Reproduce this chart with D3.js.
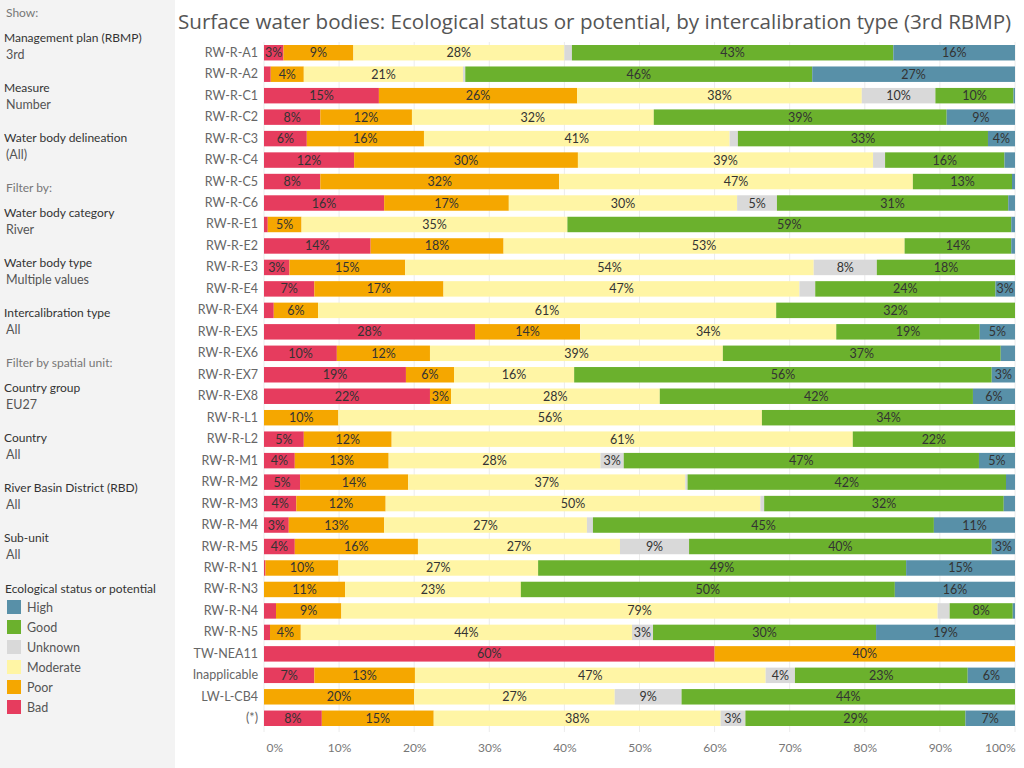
<!DOCTYPE html>
<html>
<head>
<meta charset="utf-8">
<script src="https://cdn.jsdelivr.net/npm/d3@7"></script>
<style>
  body { margin: 0; background: #fff; font-family: Lato, "Noto Sans", sans-serif; }
  svg { display: block; }
</style>
</head>
<body>
<svg id="chart" width="1024" height="768"></svg>
<script>
const categories = ["RW-R-A1", "RW-R-A2", "RW-R-C1", "RW-R-C2", "RW-R-C3", "RW-R-C4", "RW-R-C5", "RW-R-C6",
  "RW-R-E1", "RW-R-E2", "RW-R-E3", "RW-R-E4", "RW-R-EX4", "RW-R-EX5", "RW-R-EX6", "RW-R-EX7", "RW-R-EX8",
  "RW-R-L1", "RW-R-L2", "RW-R-M1", "RW-R-M2", "RW-R-M3", "RW-R-M4", "RW-R-M5", "RW-R-N1", "RW-R-N3",
  "RW-R-N4", "RW-R-N5", "TW-NEA11", "Inapplicable", "LW-L-CB4", "(*)"];

// percent shares per status, same order as categories
const bad      = [2.6, 0.9, 15.3, 7.5, 5.7, 12.0, 7.5, 16.0, 0.5, 14.2, 3.4, 6.7, 1.3, 28.1, 9.7, 18.9, 22.1, 0, 5.3, 4.1, 4.8, 4.3, 3.3, 4.1, 0.2, 0, 1.6, 0.8, 60, 6.7, 0, 7.7];
const poor     = [9.3, 4.4, 26.4, 12.2, 15.6, 29.8, 31.8, 16.6, 4.5, 17.7, 15.4, 17.2, 5.9, 14.0, 12.4, 6.4, 2.8, 9.9, 11.7, 12.5, 14.4, 11.9, 12.7, 16.4, 9.7, 10.8, 8.7, 4.1, 40, 13.4, 20.0, 14.9];
const moderate = [28.1, 21.2, 37.9, 32.2, 40.7, 39.3, 47.1, 30.4, 35.4, 53.4, 54.4, 47.4, 61.0, 34.1, 39.0, 16.0, 27.8, 56.4, 61.4, 28.2, 36.9, 49.9, 27.0, 26.9, 26.6, 23.4, 79.4, 44.1, 0, 46.7, 26.7, 38.2];
const unknown  = [1.0, 0.3, 9.8, 0, 1.1, 1.6, 0, 5.3, 0, 0, 8.4, 2.1, 0, 0, 0, 0, 0, 0, 0, 3.1, 0.3, 0.5, 0.8, 9.2, 0, 0, 1.6, 2.8, 0, 3.9, 8.9, 3.3];
const good     = [42.8, 46.2, 10.4, 39.0, 33.3, 15.9, 13.2, 30.8, 59.1, 14.2, 18.4, 24.0, 31.8, 19.1, 37.0, 55.6, 41.7, 33.7, 21.6, 47.3, 42.4, 31.9, 45.4, 40.3, 49.0, 49.8, 8.4, 29.7, 0, 23.0, 44.4, 29.3];
const high     = [16.2, 27.0, 0.2, 9.1, 3.6, 1.4, 0.4, 0.9, 0.5, 0.5, 0, 2.6, 0, 4.7, 1.9, 3.1, 5.6, 0, 0, 4.8, 1.2, 1.5, 10.8, 3.1, 14.5, 16.0, 0.3, 18.5, 0, 6.3, 0, 6.6];

const statusKeys = ["Bad", "Poor", "Moderate", "Unknown", "Good", "High"];
const statusColors = ["#e63c5e", "#f5a700", "#fff5a5", "#d9d9d9", "#6bb12d", "#5890a8"];
const legendOrder = ["High", "Good", "Unknown", "Moderate", "Poor", "Bad"];
const xTicks = [0, 10, 20, 30, 40, 50, 60, 70, 80, 90, 100];

const filterPanel = [
  { head: "Show:", section: true, y: 17 },
  { head: "Management plan (RBMP)", value: "3rd", y: 42 },
  { head: "Measure", value: "Number", y: 92 },
  { head: "Water body delineation", value: "(All)", y: 142 },
  { head: "Filter by:", section: true, y: 192 },
  { head: "Water body category", value: "River", y: 217 },
  { head: "Water body type", value: "Multiple values", y: 267 },
  { head: "Intercalibration type", value: "All", y: 317 },
  { head: "Filter by spatial unit:", section: true, y: 367 },
  { head: "Country group", value: "EU27", y: 392 },
  { head: "Country", value: "All", y: 442 },
  { head: "River Basin District (RBD)", value: "All", y: 492 },
  { head: "Sub-unit", value: "All", y: 542 }
];

const rows = categories.map((c, i) => ({
  cat: c, Bad: bad[i], Poor: poor[i], Moderate: moderate[i], Unknown: unknown[i], Good: good[i], High: high[i]
}));

const svg = d3.select("#chart");
const color = d3.scaleOrdinal().domain(statusKeys).range(statusColors);

// left filter panel
svg.append("rect").attr("x", 0).attr("y", 0).attr("width", 175).attr("height", 768).attr("fill", "#f3f3f3");
const panel = svg.append("g").style("font-family", "Lato, 'Noto Sans', sans-serif");
filterPanel.forEach(d => {
  panel.append("text").attr("x", d.section ? 6 : 4).attr("y", d.y)
    .attr("font-size", 12).attr("fill", d.section ? "#777" : "#333").text(d.head);
  if (d.value) {
    panel.append("text").attr("x", 6).attr("y", d.y + 17)
      .attr("font-size", 12.5).attr("fill", "#555").text(d.value);
  }
});
panel.append("text").attr("x", 5).attr("y", 593).attr("font-size", 12).attr("fill", "#333")
  .text("Ecological status or potential");
const leg = panel.selectAll("g.leg").data(legendOrder).enter().append("g")
  .attr("transform", (d, i) => `translate(7,${600 + i * 20})`);
leg.append("rect").attr("width", 14).attr("height", 14).attr("fill", d => color(d));
leg.append("text").attr("x", 20).attr("y", 11.5).attr("font-size", 12.5).attr("fill", "#555").text(d => d);

// title
svg.append("text").attr("x", 178).attr("y", 29).attr("font-size", 20.6)
  .attr("font-family", "'Open Sans', Lato, sans-serif").attr("fill", "#555")
  .text("Surface water bodies: Ecological status or potential, by intercalibration type (3rd RBMP)");

// chart
const x = d3.scaleLinear().domain([0, 100]).range([264, 1015]);
const y = d3.scaleBand().domain(categories).range([42, 729]).paddingInner(0.28).paddingOuter(0.14);

svg.append("g").selectAll("line").data(xTicks).enter().append("line")
  .attr("x1", d => x(d)).attr("x2", d => x(d)).attr("y1", 42).attr("y2", 732)
  .attr("stroke", "#ececec").attr("stroke-width", 1);

const series = d3.stack().keys(statusKeys)(rows);

const layers = svg.append("g").selectAll("g").data(series).enter().append("g")
  .attr("fill", d => color(d.key));
layers.selectAll("rect").data(d => d).enter().append("rect")
  .attr("x", d => x(d[0]))
  .attr("y", d => y(d.data.cat))
  .attr("width", d => Math.max(0, x(d[1]) - x(d[0])))
  .attr("height", y.bandwidth());

const labels = svg.append("g").attr("font-size", 12.5).attr("fill", "#333").attr("text-anchor", "middle");
series.forEach(s => {
  s.forEach(d => {
    const v = d[1] - d[0];
    if (v < 2.4) return;
    labels.append("text")
      .attr("x", (x(d[0]) + x(d[1])) / 2)
      .attr("y", y(d.data.cat) + y.bandwidth() / 2)
      .attr("dy", "0.36em")
      .text(Math.round(v) + "%");
  });
});

// row labels
svg.append("g").attr("transform", "translate(264,0)")
  .call(d3.axisLeft(y).tickSize(0).tickPadding(6))
  .call(g => g.select(".domain").remove())
  .call(g => g.selectAll("text").attr("font-size", 12.5).attr("fill", "#666")
    .attr("font-family", "Lato, 'Noto Sans', sans-serif"));

// bottom axis
svg.append("g").attr("transform", "translate(0,733)")
  .call(d3.axisBottom(x).tickValues(xTicks).tickFormat(d => d + "%").tickSize(0).tickPadding(10))
  .call(g => g.select(".domain").remove())
  .call(g => g.selectAll("text").attr("font-size", 12).attr("fill", "#777")
    .attr("font-family", "Lato, 'Noto Sans', sans-serif")
    .attr("text-anchor", d => d === 0 ? "start" : d === 100 ? "end" : "middle")
    .attr("dx", d => d === 0 ? 2 : 0));
</script>
</body>
</html>
